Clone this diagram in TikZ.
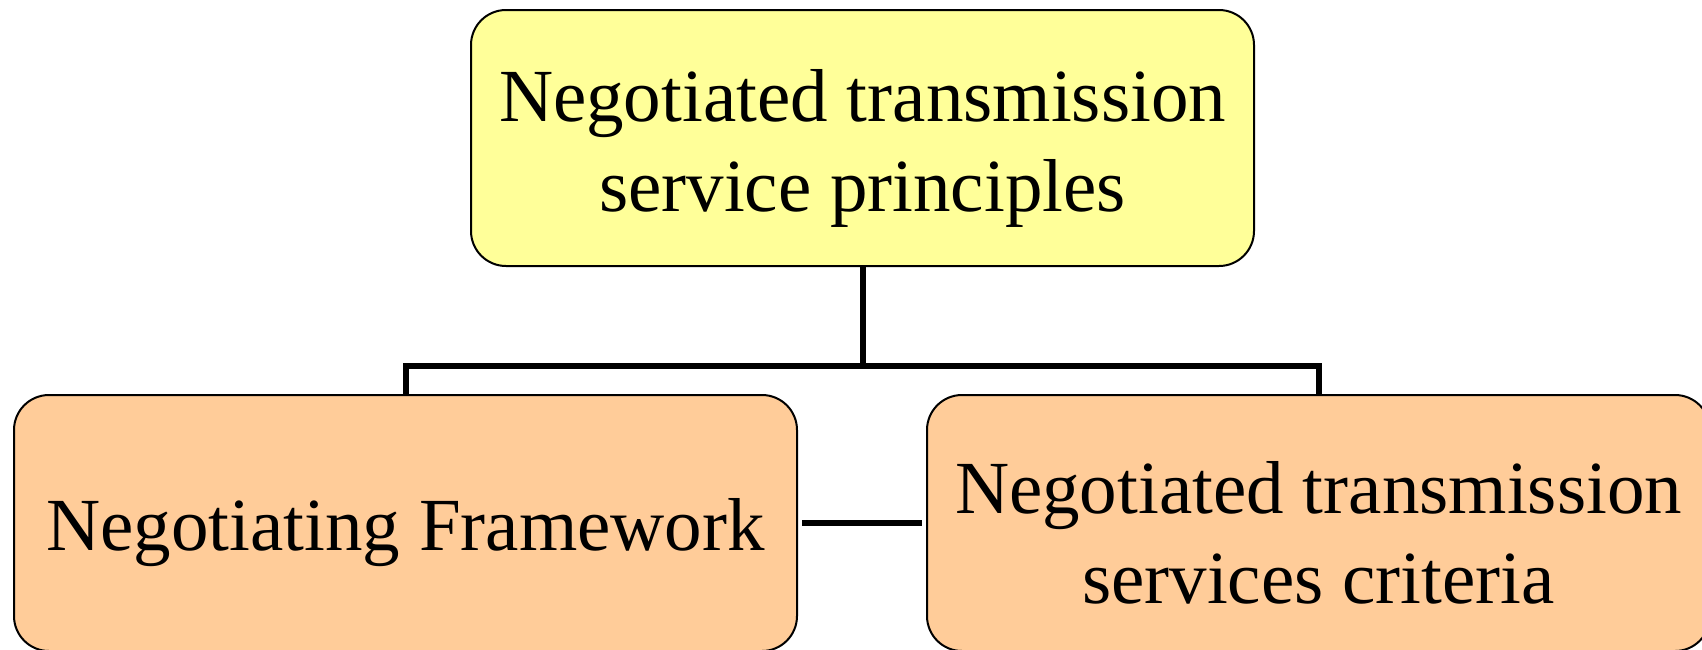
\documentclass[tikz,border=0pt]{standalone}
\usepackage{fontspec}
\setmainfont{Liberation Serif}
\usetikzlibrary{positioning}

\definecolor{topyellow}{RGB}{255,255,153}
\definecolor{subpeach}{RGB}{255,204,153}

% taller first line pushes the text a bit below the middle of the box
\newcommand{\boxstrut}{\rule{0pt}{36pt}}

\begin{document}
\begin{tikzpicture}[
    x=0.5pt,
    y=-0.5pt,
    box/.style={
        draw,
        line width=1pt,
        rounded corners=17.5pt,
        minimum width=391.5pt,
        minimum height=128pt,
        align=center,
        inner sep=0pt,
        font=\fontsize{37.5}{45}\selectfont
    },
    topbox/.style={box, fill=topyellow},
    subbox/.style={box, fill=subpeach},
    link/.style={
        draw,
        line width=3pt
    }
]

\useasboundingbox (0,0) rectangle (1702,649);

% ============ BOXES ============
\node[topbox] (principles) at (862.5, 138) {\boxstrut Negotiated transmission\\service principles};
\node[subbox] (framework) at (405.5, 523) {\boxstrut Negotiating Framework};
\node[subbox] (criteria) at (1318.5, 523) {\boxstrut Negotiated transmission\\services criteria};

% ============ CONNECTORS ============
\coordinate (split) at (862.5, 366);
\draw[link] (principles.south) -- (split);
\draw[link] (split) -| (framework.north);
\draw[link] (split) -| (criteria.north);

% link between the two lower boxes
\draw[link, shorten <=2pt, shorten >=2pt] (framework.east) -- (criteria.west);

\end{tikzpicture}
\end{document}
